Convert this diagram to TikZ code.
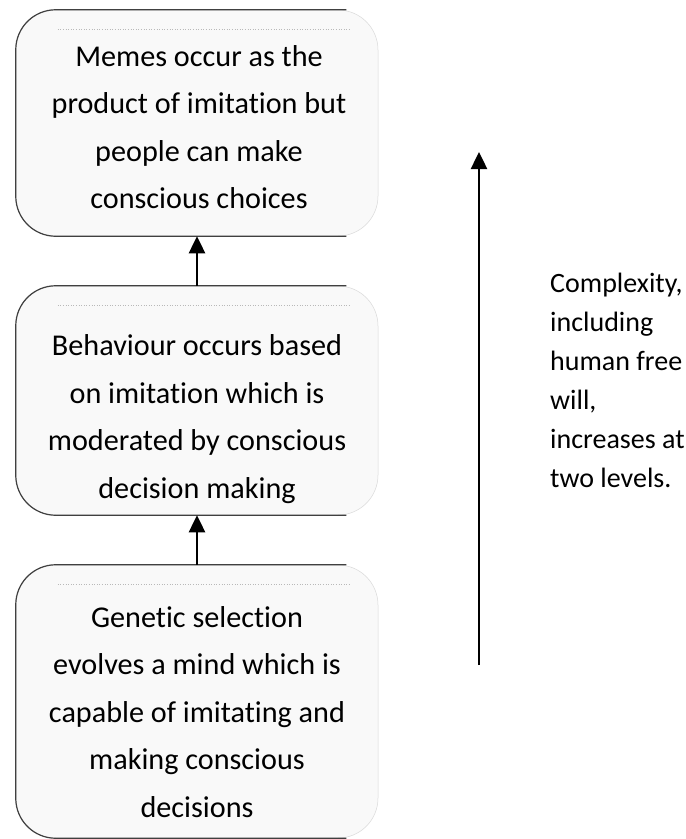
\documentclass[tikz,border=0pt]{standalone}
\usepackage{fontspec}
\setmainfont{Carlito}[Ligatures={NoCommon}]
\usetikzlibrary{arrows.meta,calc}
\begin{document}
\begin{tikzpicture}[x=1pt,y=-1pt,
  boxstyle/.style={rectangle, rounded corners=40pt, fill=gray!5, draw=gray!30, line width=0.5pt,
    minimum width=362pt, inner sep=0pt},
  boxtext/.style={align=center, inner sep=0pt, font=\fontsize{30.2}{47.5}\selectfont},
  edgeline/.style={draw=black!75, line width=1.2pt, rounded corners=40pt},
  innerline/.style={draw=gray!55, line width=0.6pt, dotted},
  arr/.style={-{Triangle[length=17pt,width=16pt]}, line width=2.5pt},
  sidetext/.style={align=left, inner sep=0pt, font=\fontsize{28}{39}\selectfont}]
\useasboundingbox (0,0) rectangle (686,839);
\fill[white] (0,0) rectangle (686,839);
\begin{scope}
\clip (0,0) rectangle (686,839);
\node[boxstyle, minimum height=226pt] (b1) at (197,123) {};
\node[boxstyle, minimum height=229pt] (b2) at (197,400.5) {};
\node[boxstyle, minimum height=273pt] (b3) at (197,701.5) {};
\foreach \b in {b1,b2,b3}{
  \draw[edgeline] ([xshift=-32pt]\b.south east) -- (\b.south west) -- (\b.north west) -- ([xshift=-32pt]\b.north east);
  \draw[innerline] ([shift={(42pt,-20pt)}]\b.north west) -- ([shift={(-28pt,-20pt)}]\b.north east);
}
\end{scope}
\node[boxtext] (t1) at (199,127) {Memes occur as the\\product of imitation but\\people can make\\conscious choices};
\node[boxtext] (t2) at (197,419) {Behaviour occurs based\\on imitation which is\\moderated by conscious\\decision making};
\node[boxtext] (t3) at (197,712) {Genetic selection\\evolves a mind which is\\capable of imitating and\\making conscious\\decisions};
\draw[arr] (b2.north) -- (b1.south);
\draw[arr] (b3.north) -- (b2.south);
\coordinate (cb) at (479,665);
\coordinate (ct) at (479,152);
\draw[arr] (cb) -- (ct);
\node[sidetext, anchor=west] (side) at (550,380) {Complexity,\\including\\human free\\will,\\increases at\\two levels.};
\end{tikzpicture}
\end{document}
